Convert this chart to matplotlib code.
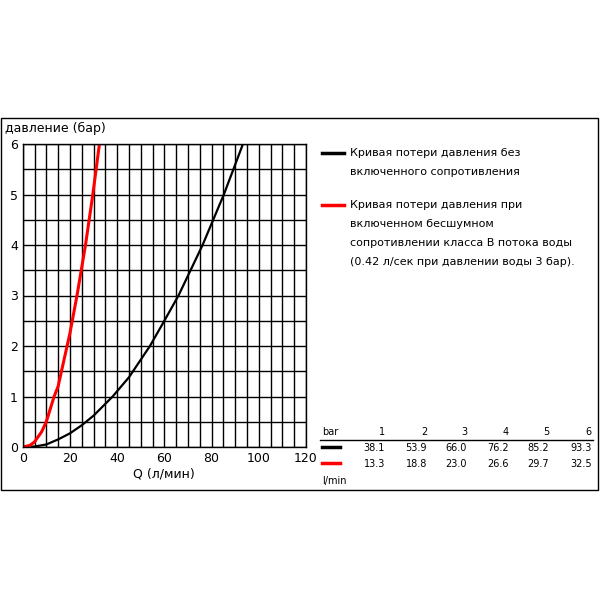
import matplotlib
matplotlib.use("Agg")
import matplotlib.pyplot as plt
from matplotlib.patches import Rectangle
from matplotlib.lines import Line2D

# curve points (flow l/min, pressure bar)
flow_black = [0, 5, 10, 15, 20, 25, 30, 38.1, 45, 53.9, 60, 66.0, 76.2, 85.2, 93.3]
pres_black = [0, 0.01, 0.05, 0.15, 0.27, 0.43, 0.62, 1, 1.38, 2, 2.5, 3, 4, 5, 6]
flow_red = [0, 3, 5, 8, 10, 13.3, 15, 18.8, 20, 23.0, 26.6, 29.7, 32.5]
pres_red = [0, 0.03, 0.1, 0.3, 0.5, 1, 1.2, 2, 2.25, 3, 4, 5, 6]
bar_labels = ["1", "2", "3", "4", "5", "6"]
black_txt = ["38.1", "53.9", "66.0", "76.2", "85.2", "93.3"]
red_txt = ["13.3", "18.8", "23.0", "26.6", "29.7", "32.5"]

fig = plt.figure(figsize=(6, 6), dpi=100)
fig.patches.append(Rectangle((1/600, 110/600), 597/600, 372/600, transform=fig.transFigure,
                             fill=False, edgecolor="black", lw=1))
ax = fig.add_axes([22.7/600, 153/600, 283.3/600, 303/600])
ax.set_xlim(0, 120)
ax.set_ylim(0, 6)
ax.set_xticks(range(0, 121, 20))
ax.set_yticks(range(0, 7))
ax.set_xticks(range(0, 121, 5), minor=True)
ax.set_yticks([i * 0.5 for i in range(13)], minor=True)
ax.grid(True, which="both", color="black", lw=1.0)
ax.tick_params(which="both", length=0, labelsize=9)
for s in ax.spines.values():
    s.set_linewidth(1)
ax.plot(flow_black, pres_black, color="black", lw=1.6)
ax.plot(flow_red, pres_red, color="red", lw=2.2)
ax.set_xlabel("Q (л/мин)", fontsize=9, labelpad=2)
fig.text(5/600, 1 - 128/600, "давление (бар)", fontsize=9, va="center")

def ft(x, y, s):
    fig.text(x/600, 1 - y/600, s, fontsize=8, va="center")

fig.lines.append(Line2D([322/600, 344/600], [1-153/600]*2, color="black", lw=2.5, transform=fig.transFigure))
ft(350, 153, "Кривая потери давления без")
ft(350, 172, "включенного сопротивления")
fig.lines.append(Line2D([322/600, 344/600], [1-205/600]*2, color="red", lw=2.5, transform=fig.transFigure))
for i, s in enumerate(["Кривая потери давления при", "включенном бесшумном",
                       "сопротивлении класса В потока воды",
                       "(0.42 л/сек при давлении воды 3 бар)."]):
    ft(350, 205 + 19 * i, s)

cols = [385, 427, 467, 509, 549, 592]
fig.text(322/600, 1-432/600, "bar", fontsize=7, va="center")
fig.lines.append(Line2D([320/600, 593/600], [1-440/600]*2, color="black", lw=1, transform=fig.transFigure))
fig.lines.append(Line2D([322/600, 340/600], [1-447/600]*2, color="black", lw=2.5, transform=fig.transFigure))
fig.lines.append(Line2D([322/600, 340/600], [1-463/600]*2, color="red", lw=2.5, transform=fig.transFigure))
for c, b, k, r in zip(cols, bar_labels, black_txt, red_txt):
    fig.text(c/600, 1-432/600, b, fontsize=7, va="center", ha="right")
    fig.text(c/600, 1-448/600, k, fontsize=7, va="center", ha="right")
    fig.text(c/600, 1-464/600, r, fontsize=7, va="center", ha="right")
fig.text(322/600, 1-481/600, "l/min", fontsize=7, va="center")
fig.savefig("out.png")
